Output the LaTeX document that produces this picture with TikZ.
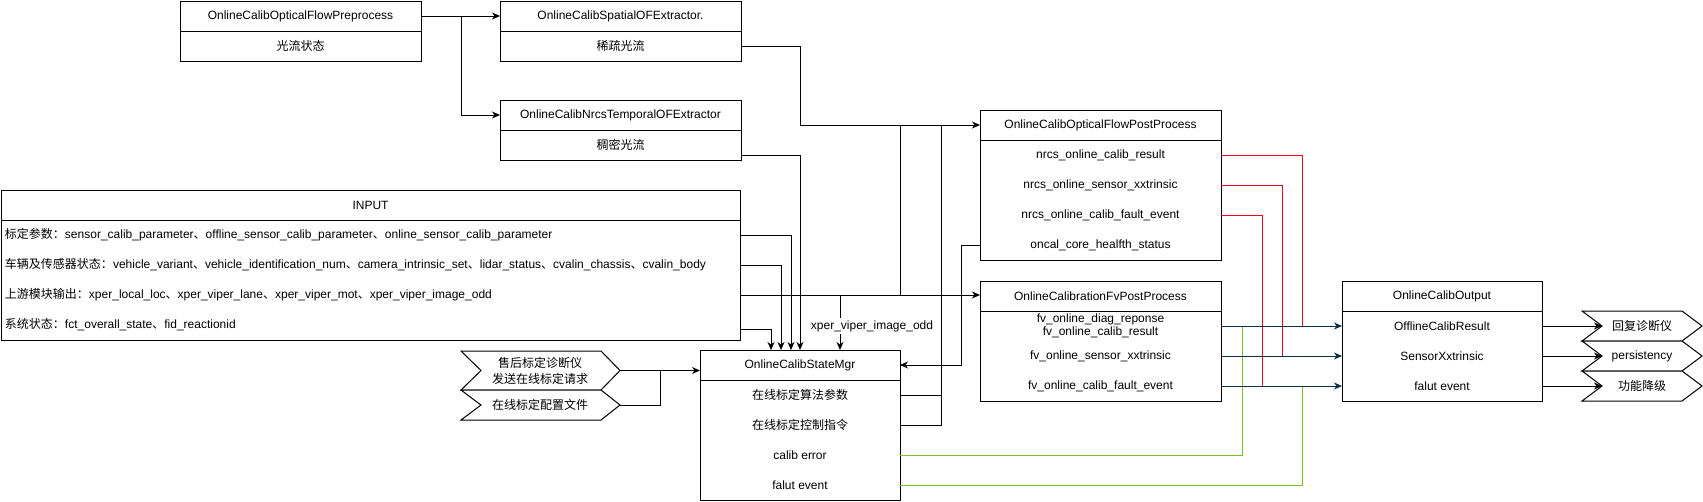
\documentclass[tikz,border=0pt]{standalone}
\usepackage{fontspec}
\setmainfont{Liberation Sans}
\newfontfamily\cjk{Noto Sans CJK SC}
\usetikzlibrary{arrows.meta,calc}
\definecolor{navyl}{HTML}{0F2F46}
\definecolor{redl}{HTML}{F5001E}
\definecolor{greenl}{HTML}{7AC31E}
\begin{document}
\begin{tikzpicture}[x=1pt,y=-1pt,
  base/.style={font=\fontsize{12}{14}\selectfont, inner sep=0pt, outer sep=0pt, text=black},
  cell/.style={base, draw, line width=1pt, anchor=north west, minimum height=30pt},
  frame/.style={draw, line width=1pt, anchor=north west, inner sep=0pt, outer sep=0pt},
  rowc/.style={base, anchor=north west, minimum height=30pt},
  conn/.style={line width=1pt},
  tipstyle/.style={-{Stealth[length=8pt,width=7pt,inset=2.5pt]}},
  arr/.style={conn, tipstyle},
  navyarr/.style={conn, draw=navyl, tipstyle},
  redline/.style={conn, draw=redl},
  greenline/.style={conn, draw=greenl},
  chev/.style={draw, line width=1pt, fill=white},
  lbl/.style={base, align=center}
]
\useasboundingbox (0,0) rectangle (1703,501);

% ---------- top boxes ----------
\node[cell, minimum width=241pt] (pre) at (180,1) {OnlineCalibOpticalFlowPreprocess};
\node[cell, minimum width=241pt] (prer) at (pre.south west) {\cjk 光流状态};

\node[cell, minimum width=241pt] (spa) at (500,1) {OnlineCalibSpatialOFExtractor.};
\node[cell, minimum width=241pt] (spar) at (spa.south west) {\cjk 稀疏光流};

\node[cell, minimum width=241pt] (nrc) at (500,100) {OnlineCalibNrcsTemporalOFExtractor};
\node[cell, minimum width=241pt] (nrcr) at (nrc.south west) {\cjk 稠密光流};

% ---------- INPUT ----------
\node[cell, minimum width=739pt] (inp) at (1,190) {INPUT};
\node[frame, minimum width=739pt, minimum height=120pt] (inpb) at (inp.south west) {};
\node[rowc, minimum width=739pt, text width=731pt, align=left, inner xsep=4pt] (in1) at (1,220)
  {{\cjk 标定参数：}sensor\_calib\_parameter{\cjk 、}offline\_sensor\_calib\_parameter{\cjk 、}online\_sensor\_calib\_parameter};
\node[rowc, minimum width=739pt, text width=731pt, align=left, inner xsep=4pt] (in2) at (1,250)
  {{\cjk 车辆及传感器状态：}vehicle\_variant{\cjk 、}vehicle\_identification\_num{\cjk 、}camera\_intrinsic\_set{\cjk 、}lidar\_status{\cjk 、}cvalin\_chassis{\cjk 、}cvalin\_body};
\node[rowc, minimum width=739pt, text width=731pt, align=left, inner xsep=4pt] (in3) at (1,280)
  {{\cjk 上游模块输出：}xper\_local\_loc{\cjk 、}xper\_viper\_lane{\cjk 、}xper\_viper\_mot{\cjk 、}xper\_viper\_image\_odd};
\node[rowc, minimum width=739pt, text width=731pt, align=left, inner xsep=4pt] (in4) at (1,310)
  {{\cjk 系统状态：}fct\_overall\_state{\cjk 、}fid\_reactionid};

% ---------- OnlineCalibStateMgr ----------
\node[cell, minimum width=200pt] (smg) at (700,350) {OnlineCalibStateMgr};
\node[frame, minimum width=200pt, minimum height=120pt] (smgb) at (smg.south west) {};
\node[rowc, minimum width=200pt] (s1) at (700,380) {\cjk 在线标定算法参数};
\node[rowc, minimum width=200pt] (s2) at (700,410) {\cjk 在线标定控制指令};
\node[rowc, minimum width=200pt] (s3) at (700,440) {calib error};
\node[rowc, minimum width=200pt] (s4) at (700,470) {falut event};

% ---------- OnlineCalibOpticalFlowPostProcess ----------
\node[cell, minimum width=241pt] (pst) at (980,110) {OnlineCalibOpticalFlowPostProcess};
\node[frame, minimum width=241pt, minimum height=120pt] (pstb) at (pst.south west) {};
\node[rowc, minimum width=241pt] (p1) at (980,140) {nrcs\_online\_calib\_result};
\node[rowc, minimum width=241pt] (p2) at (980,170) {nrcs\_online\_sensor\_xxtrinsic};
\node[rowc, minimum width=241pt] (p3) at (980,200) {nrcs\_online\_calib\_fault\_event};
\node[rowc, minimum width=241pt] (p4) at (980,230) {oncal\_core\_healfth\_status};

% ---------- OnlineCalibrationFvPostProcess ----------
\node[cell, minimum width=241pt] (fvp) at (980,281) {OnlineCalibrationFvPostProcess};
\node[frame, minimum width=241pt, minimum height=90pt] (fvpb) at (fvp.south west) {};
\node[rowc, minimum width=241pt, align=center, font=\fontsize{12}{13}\selectfont] (f1) at (980,311) {fv\_online\_diag\_reponse\\fv\_online\_calib\_result};
\node[rowc, minimum width=241pt] (f2) at (980,341) {fv\_online\_sensor\_xxtrinsic};
\node[rowc, minimum width=241pt] (f3) at (980,371) {fv\_online\_calib\_fault\_event};

% ---------- OnlineCalibOutput ----------
\node[cell, minimum width=200pt] (out) at (1342,281) {OnlineCalibOutput};
\node[frame, minimum width=200pt, minimum height=90pt] (outb) at (out.south west) {};
\node[rowc, minimum width=200pt] (o1) at (1342,311) {OfflineCalibResult};
\node[rowc, minimum width=200pt] (o2) at (1342,341) {SensorXxtrinsic};
\node[rowc, minimum width=200pt] (o3) at (1342,371) {falut event};

% ---------- left chevrons ----------
\draw[chev] (461,351) -- (601,351) -- (620,370.5) -- (601,390) -- (461,390) -- (481,370.5) -- cycle;
\draw[chev] (461,390) -- (601,390) -- (620,405) -- (601,420) -- (461,420) -- (481,405) -- cycle;
\node[lbl, font=\fontsize{12}{16}\selectfont\cjk] (ch1) at (540,370.5) {售后标定诊断仪\\发送在线标定请求};
\node[lbl, font=\fontsize{12}{14}\selectfont\cjk] (ch2) at (540,405) {在线标定配置文件};
\coordinate (c1) at (620,370.5);
\coordinate (c2) at (620,405);
\coordinate (j2) at (660,370.5);

% ---------- right chevrons ----------
\draw[chev] (1582,311) -- (1682,311) -- (1702,326) -- (1682,341) -- (1582,341) -- (1602,326) -- cycle;
\draw[chev] (1582,341) -- (1682,341) -- (1702,356) -- (1682,371) -- (1582,371) -- (1602,356) -- cycle;
\draw[chev] (1582,371) -- (1682,371) -- (1702,386) -- (1682,401) -- (1582,401) -- (1602,386) -- cycle;
\node[lbl] (r1) at (1642,326) {\cjk 回复诊断仪};
\node[lbl] (r2) at (1642,356) {persistency};
\node[lbl] (r3) at (1642,386) {\cjk 功能降级};
\coordinate (t1) at (1602,326);
\coordinate (t2) at (1602,356);
\coordinate (t3) at (1602,386);

% ---------- connectors (black) ----------
\coordinate (j1) at (461,16);
\draw[arr] (pre.east) -- (spa.west);
\draw[arr] (j1) |- (nrc.west);
\draw[arr] (spar.east) -- ++(59,0) |- (pst.west);
\draw[arr] ([yshift=-10pt]nrcr.east) -| (smg.north);
\draw[arr] (in1.east) -| ([xshift=-9pt]smg.north);
\draw[arr] (in2.east) -| ([xshift=-19pt]smg.north);
\draw[arr] ([yshift=-4pt]in4.east) -| ([xshift=-29pt]smg.north);
\draw[arr] (in3.east) -- (in3.east -| fvp.west);
\coordinate (x1) at (840,295);
\draw[arr] (x1) -- ([xshift=40pt]smg.north);
\node[base, fill=white, inner xsep=1pt, inner ysep=2pt] (xlab) at (872,326) {xper\_viper\_image\_odd};
\draw[conn] (in3.east -| smg.east) -- (pst.west -| smg.east);
\coordinate (v941) at (941,125);
\draw[conn] (s1.east) -| (v941);
\draw[conn] (s2.east) -| (v941);
\draw[arr] (p4.west) -- ++(-19,0) |- (smg.east);
\draw[arr] (c1) -- (c1 -| smg.west);
\draw[conn] (c2) -| (j2);

% ---------- coloured connectors ----------
\draw[redline] (p1.east) -| ([xshift=-40pt]o1.west);
\draw[redline] (p2.east) -| ([xshift=-60pt]o2.west);
\draw[redline] (p3.east) -| ([xshift=-80pt]o3.west);
\draw[greenline] (s3.east) -| ([xshift=-100pt]o1.west);
\draw[greenline] (s4.east) -| ([xshift=-40pt]o3.west);
\draw[navyarr] (f1.east) -- (o1.west);
\draw[navyarr] (f2.east) -- (o2.west);
\draw[navyarr] (f3.east) -- (o3.west);

% ---------- output to chevrons ----------
\draw[arr] (o1.east) -- (t1);
\draw[arr] (o2.east) -- (t2);
\draw[arr] (o3.east) -- (t3);
\end{tikzpicture}
\end{document}
